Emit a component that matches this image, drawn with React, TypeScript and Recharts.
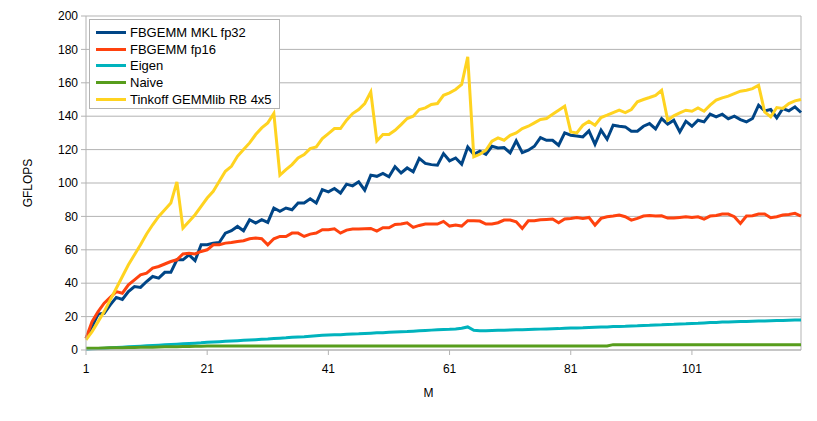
import React from 'react';
import { LineChart, Line, XAxis, YAxis, CartesianGrid, Legend, ReferenceLine, Label } from 'recharts';

const mklFp32 = [
  7, 14, 21.5, 22, 27, 31.5, 30.3, 35, 38, 37.5,
  41, 44, 43, 46.5, 46.5, 54, 54, 57, 53.5, 63,
  63, 64, 64.4, 70, 71.4, 74, 71.4, 78, 76, 78,
  76.4, 85, 83, 85, 84, 88, 88, 90.5, 88, 96,
  94.7, 96.7, 94, 99.3, 98.3, 100.7, 95.7, 104.7, 104, 105.7,
  103.7, 109.7, 106, 109, 106.7, 114.7, 111.7, 111, 110.7, 117.6,
  113.3, 115, 111.3, 121.6, 117.2, 119, 117.2, 122, 121, 121.2,
  118, 125.2, 118.2, 119.6, 122, 127.2, 125.6, 125.6, 122.6, 130,
  128.6, 128.2, 127.6, 131.2, 123.2, 131.6, 126.2, 134.6, 134, 133.6,
  131, 131, 134, 135.6, 132.4, 138.6, 135.2, 137.6, 130.6, 137,
  134, 137.6, 136.6, 141.2, 139.6, 141.2, 138.4, 140, 138, 136.6,
  138.6, 146.6, 143.2, 144, 139, 144.6, 143.2, 145.6, 142.2,
];

const fp16 = [
  7, 17, 23, 28, 31.5, 35, 34, 39, 42, 45,
  46, 49, 50, 51.5, 53, 54, 57.5, 58, 57.5, 59,
  60, 63, 63, 64, 64.4, 65, 65.4, 66.6, 67, 66.6,
  63, 66.6, 68, 68, 70, 70, 68, 69.4, 70, 72,
  72, 72.6, 70, 71.8, 72.4, 72.4, 72.6, 72.8, 71.2, 73.2,
  73.2, 75.2, 75.4, 76.2, 73.4, 74.6, 75.4, 75.4, 75.4, 77,
  74.2, 74.8, 74.2, 77.4, 77.4, 77.2, 75.4, 75.4, 76.2, 77.8,
  77.8, 76.8, 72.8, 77.4, 77.4, 78, 78.2, 78.4, 76.2, 78.4,
  78.8, 79.4, 78.8, 79.4, 74.8, 78.8, 79.8, 80.2, 80.8, 79.8,
  77.8, 78.8, 80.2, 80.6, 80.2, 80.4, 79, 79, 79.4, 79.8,
  79.4, 79.8, 78.4, 80.2, 80.6, 81.4, 81.4, 79.8, 75.8, 80.2,
  80.4, 81.4, 81.4, 79.2, 79.8, 80.8, 81.2, 81.8, 80.2,
];

const eigen = [
  0.5, 0.7, 0.9, 1.1, 1.3, 1.5, 1.7, 1.9, 2.1, 2.3,
  2.5, 2.7, 2.9, 3.1, 3.3, 3.5, 3.7, 3.9, 4.1, 4.3,
  4.6, 4.8, 5.0, 5.2, 5.4, 5.6, 5.8, 6.0, 6.2, 6.4,
  6.6, 6.9, 7.1, 7.3, 7.6, 7.8, 8.0, 8.3, 8.6, 8.8,
  9.0, 9.1, 9.2, 9.4, 9.6, 9.7, 9.9, 10.1, 10.3, 10.4,
  10.6, 10.8, 11.0, 11.1, 11.3, 11.5, 11.7, 11.9, 12.1, 12.3,
  12.4, 12.6, 13.0, 13.8, 11.8, 11.6, 11.6, 11.7, 11.8, 11.9,
  12.0, 12.1, 12.2, 12.3, 12.4, 12.5, 12.6, 12.7, 12.8, 13.0,
  13.1, 13.2, 13.3, 13.5, 13.6, 13.7, 13.8, 14.0, 14.1, 14.2,
  14.4, 14.5, 14.7, 14.8, 15.0, 15.1, 15.3, 15.4, 15.6, 15.7,
  15.9, 16.0, 16.2, 16.4, 16.5, 16.7, 16.8, 16.9, 17.0, 17.1,
  17.2, 17.3, 17.4, 17.5, 17.6, 17.7, 17.8, 17.9, 18.0,
];

const naive = [
  1.0, 1.1, 1.1, 1.2, 1.3, 1.3, 1.4, 1.5, 1.5, 1.6,
  1.7, 1.7, 1.8, 1.9, 1.9, 2.0, 2.1, 2.1, 2.2, 2.3,
  2.4, 2.4, 2.4, 2.4, 2.4, 2.4, 2.4, 2.4, 2.4, 2.4,
  2.4, 2.4, 2.4, 2.4, 2.4, 2.4, 2.4, 2.4, 2.4, 2.4,
  2.4, 2.4, 2.4, 2.4, 2.4, 2.4, 2.4, 2.4, 2.4, 2.4,
  2.4, 2.4, 2.4, 2.4, 2.4, 2.4, 2.4, 2.4, 2.4, 2.4,
  2.4, 2.4, 2.4, 2.4, 2.4, 2.4, 2.4, 2.4, 2.4, 2.4,
  2.4, 2.4, 2.4, 2.4, 2.4, 2.4, 2.4, 2.4, 2.4, 2.4,
  2.4, 2.4, 2.4, 2.4, 2.4, 2.4, 2.4, 3.2, 3.2, 3.2,
  3.2, 3.2, 3.2, 3.2, 3.2, 3.2, 3.2, 3.2, 3.2, 3.2,
  3.2, 3.2, 3.2, 3.2, 3.2, 3.2, 3.2, 3.2, 3.2, 3.2,
  3.2, 3.2, 3.2, 3.2, 3.2, 3.2, 3.2, 3.2, 3.2,
];

const tinkoff = [
  6, 11, 17, 23, 30, 37, 44, 51, 57, 63,
  69.5, 75, 80, 84, 88, 100.7, 73, 77, 81, 86,
  91, 95, 101, 107, 110, 116, 120, 124, 129, 133,
  136, 141.6, 104.7, 108, 111, 115, 117, 120.6, 121.6, 126.6,
  129.6, 132.6, 132.6, 137.6, 141.6, 144, 147.6, 154.5, 125.2, 129,
  129, 131.6, 135, 138.6, 140, 144, 145, 147, 147.6, 152.5,
  154, 156, 159, 175.5, 115.7, 117.2, 119.6, 125, 127, 125.6,
  128.6, 130, 132.6, 134, 136, 138, 138.6, 141.2, 143.6, 146,
  130.6, 130, 134.6, 137, 134.6, 139.2, 140.6, 142.2, 143.6, 142.2,
  144, 148.6, 150, 151.2, 152.5, 155.5, 137.6, 140.2, 142, 143.6,
  143, 145, 143, 146.6, 149.6, 151, 152, 153.5, 155, 155.5,
  156.5, 158.5, 142.6, 139.6, 145.2, 144.6, 147.6, 149.2, 150,
];

const xTicks = [1, 21, 41, 61, 81, 101];
const yTicks = [0, 20, 40, 60, 80, 100, 120, 140, 160, 180, 200];

const series = [
  { key: 'mkl', name: 'FBGEMM MKL fp32', color: '#004586' },
  { key: 'fp16', name: 'FBGEMM fp16', color: '#ff420e' },
  { key: 'eigen', name: 'Eigen', color: '#00b3bd' },
  { key: 'naive', name: 'Naive', color: '#579d1c' },
  { key: 'tinkoff', name: 'Tinkoff GEMMlib RB 4x5', color: '#ffd320' },
];

const data = mklFp32.map((v, i) => ({
  M: i + 1,
  mkl: v,
  fp16: fp16[i],
  eigen: eigen[i],
  naive: naive[i],
  tinkoff: tinkoff[i],
}));

const FONT = '"Liberation Sans", Arial, sans-serif';

const LegendBox = () => (
  <div
    style={{
      position: 'relative',
      width: 189,
      height: 88,
      border: '1px solid #b3b3b3',
      background: '#fff',
      fontFamily: FONT,
      fontSize: 13,
      color: '#000',
    }}
  >
    {series.map((s, i) => (
      <div
        key={s.key}
        style={{
          position: 'absolute',
          left: 6,
          top: 4 + i * 16.7,
          height: 17,
          display: 'flex',
          alignItems: 'center',
          whiteSpace: 'nowrap',
        }}
      >
        <div style={{ width: 30, height: 3, background: s.color }} />
        <span style={{ marginLeft: 4 }}>{s.name}</span>
      </div>
    ))}
  </div>
);

export default function App() {
  return (
    <div style={{ position: 'relative', width: 809, height: 413 }}>
      <LineChart
        width={809}
        height={413}
        data={data}
        margin={{ top: 8, right: 16, left: 0, bottom: 0 }}
      >
        <CartesianGrid horizontal vertical={false} stroke="#b3b3b3" />
        <XAxis
          dataKey="M"
          type="number"
          domain={[1, 119]}
          ticks={xTicks}
          interval={0}
          height={71}
          stroke="#b3b3b3"
          tickSize={5}
          tickMargin={9}
          tick={{ fill: '#000', fontSize: 12, fontFamily: FONT }}
        >
          <Label
            value="M"
            position="insideBottom"
            offset={24}
            dx={-15}
            style={{ fill: '#000', fontSize: 12, fontFamily: FONT }}
          />
        </XAxis>
        <YAxis
          domain={[0, 200]}
          ticks={yTicks}
          interval={0}
          width={78}
          stroke="#b3b3b3"
          tickSize={5}
          tickMargin={3}
          tick={{ fill: '#000', fontSize: 12, fontFamily: FONT }}
        >
          <Label
            value="GFLOPS"
            angle={-90}
            position="insideLeft"
            offset={20}
            style={{ fill: '#000', fontSize: 12, fontFamily: FONT, textAnchor: 'middle' }}
          />
        </YAxis>
        <ReferenceLine x={119} stroke="#b3b3b3" />
        <Legend
          layout="vertical"
          align="center"
          verticalAlign="middle"
          content={<LegendBox />}
          wrapperStyle={{ position: 'absolute', left: 81, top: 11, width: 191, height: 90 }}
        />
        {series.map((s) => (
          <Line
            key={s.key}
            type="linear"
            dataKey={s.key}
            name={s.name}
            stroke={s.color}
            strokeWidth={3}
            dot={false}
            isAnimationActive={false}
          />
        ))}
      </LineChart>
    </div>
  );
}
